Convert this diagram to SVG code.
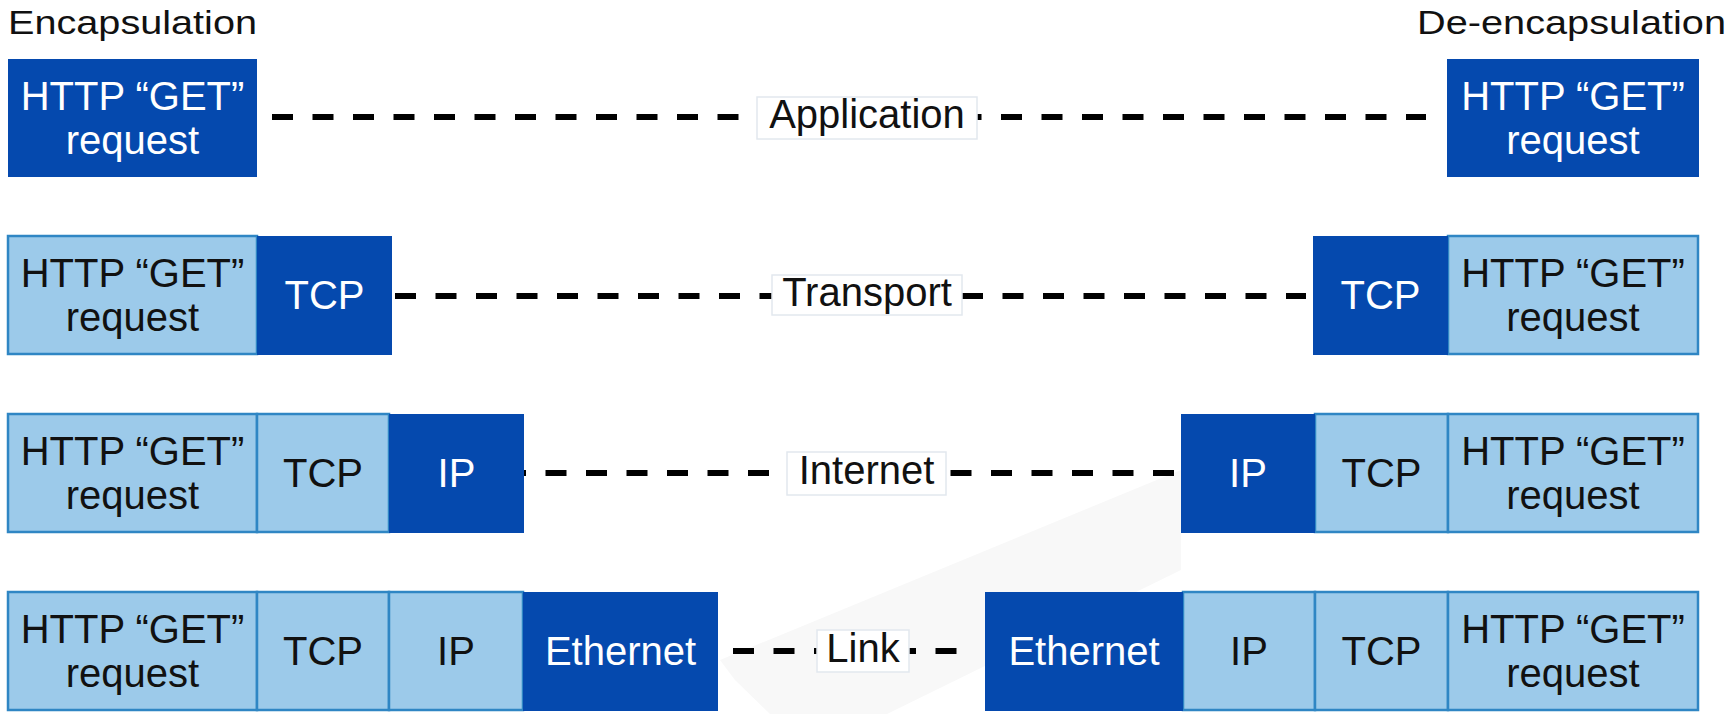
<svg xmlns="http://www.w3.org/2000/svg" width="1729" height="714" viewBox="0 0 1729 714">
<style>
.dk{fill:#0549ae}
.lt{fill:#9ccaea;stroke:#2f86c4;stroke-width:2.5}
.t{font-family:"Liberation Sans",Arial,sans-serif;font-size:40px;text-anchor:middle}
.w{fill:#ffffff}
.b{fill:#111111}
.hd{font-family:"Liberation Sans",Arial,sans-serif;font-size:34px;fill:#111111}
.lb{fill:#ffffff;stroke:#e2e8ee;stroke-width:1.5}
.ds{stroke:#000000;stroke-width:6;stroke-dasharray:21 19.5;fill:none}
</style>
<rect width="1729" height="714" fill="#ffffff"/>
<path d="M720,660 L1181,470 L1181,570 L887,714 L770,714 L735,680 Z" fill="#f8f8f8"/>
<text class="hd" x="8" y="34" textLength="249" lengthAdjust="spacingAndGlyphs">Encapsulation</text>
<text class="hd" x="1417" y="34" textLength="309" lengthAdjust="spacingAndGlyphs">De-encapsulation</text>
<g id="connectors">
<line class="ds" x1="272" y1="117" x2="1426" y2="117"/>
<line class="ds" x1="395" y1="296" x2="1306" y2="296"/>
<line class="ds" x1="523" y1="473" x2="1181" y2="473" stroke-dashoffset="18"/>
<line class="ds" x1="733" y1="651" x2="970" y2="651"/>
</g>
<g id="label-application"><rect class="lb" x="757" y="97" width="220" height="42"/><text class="t b" x="867" y="128">Application</text></g>
<g id="label-transport"><rect class="lb" x="772" y="275" width="190" height="40"/><text class="t b" x="867" y="306">Transport</text></g>
<g id="label-internet"><rect class="lb" x="787" y="452" width="159" height="43"/><text class="t b" x="866.5" y="484">Internet</text></g>
<g id="label-link"><rect class="lb" x="817" y="630" width="92" height="42"/><text class="t b" x="863" y="662">Link</text></g>
<g id="enc-app">
<rect class="dk" x="8" y="59" width="249" height="118"/>
<text class="t w" x="132.5" y="110">HTTP “GET”</text><text class="t w" x="132.5" y="154">request</text>
</g>
<g id="dec-app">
<rect class="dk" x="1447" y="59" width="252" height="118"/>
<text class="t w" x="1573" y="110">HTTP “GET”</text><text class="t w" x="1573" y="154">request</text>
</g>
<g id="enc-transport">
<rect class="lt" x="8" y="236" width="249" height="118"/>
<rect class="dk" x="257" y="236" width="135" height="119"/>
<text class="t b" x="132.5" y="287">HTTP “GET”</text><text class="t b" x="132.5" y="331">request</text>
<text class="t w" x="324.5" y="309">TCP</text>
</g>
<g id="dec-transport">
<rect class="lt" x="1448" y="236" width="250" height="118"/>
<rect class="dk" x="1313" y="236" width="135" height="119"/>
<text class="t w" x="1380.5" y="309">TCP</text>
<text class="t b" x="1573" y="287">HTTP “GET”</text><text class="t b" x="1573" y="331">request</text>
</g>
<g id="enc-internet">
<rect class="lt" x="8" y="414" width="249" height="118"/>
<rect class="lt" x="257" y="414" width="132" height="118"/>
<rect class="dk" x="389" y="414" width="135" height="119"/>
<text class="t b" x="132.5" y="465">HTTP “GET”</text><text class="t b" x="132.5" y="509">request</text>
<text class="t b" x="323" y="487">TCP</text>
<text class="t w" x="456.5" y="487">IP</text>
</g>
<g id="dec-internet">
<rect class="lt" x="1315" y="414" width="133" height="118"/>
<rect class="lt" x="1448" y="414" width="250" height="118"/>
<rect class="dk" x="1181" y="414" width="134" height="119"/>
<text class="t w" x="1248" y="487">IP</text>
<text class="t b" x="1381.5" y="487">TCP</text>
<text class="t b" x="1573" y="465">HTTP “GET”</text><text class="t b" x="1573" y="509">request</text>
</g>
<g id="enc-link">
<rect class="lt" x="8" y="592" width="249" height="118"/>
<rect class="lt" x="257" y="592" width="132" height="118"/>
<rect class="lt" x="389" y="592" width="134" height="118"/>
<rect class="dk" x="523" y="592" width="195" height="119"/>
<text class="t b" x="132.5" y="643">HTTP “GET”</text><text class="t b" x="132.5" y="687">request</text>
<text class="t b" x="323" y="665">TCP</text>
<text class="t b" x="456" y="665">IP</text>
<text class="t w" x="620.5" y="665">Ethernet</text>
</g>
<g id="dec-link">
<rect class="lt" x="1183" y="592" width="132" height="118"/>
<rect class="lt" x="1315" y="592" width="133" height="118"/>
<rect class="lt" x="1448" y="592" width="250" height="118"/>
<rect class="dk" x="985" y="592" width="198" height="119"/>
<text class="t w" x="1084" y="665">Ethernet</text>
<text class="t b" x="1249" y="665">IP</text>
<text class="t b" x="1381.5" y="665">TCP</text>
<text class="t b" x="1573" y="643">HTTP “GET”</text><text class="t b" x="1573" y="687">request</text>
</g>
</svg>
